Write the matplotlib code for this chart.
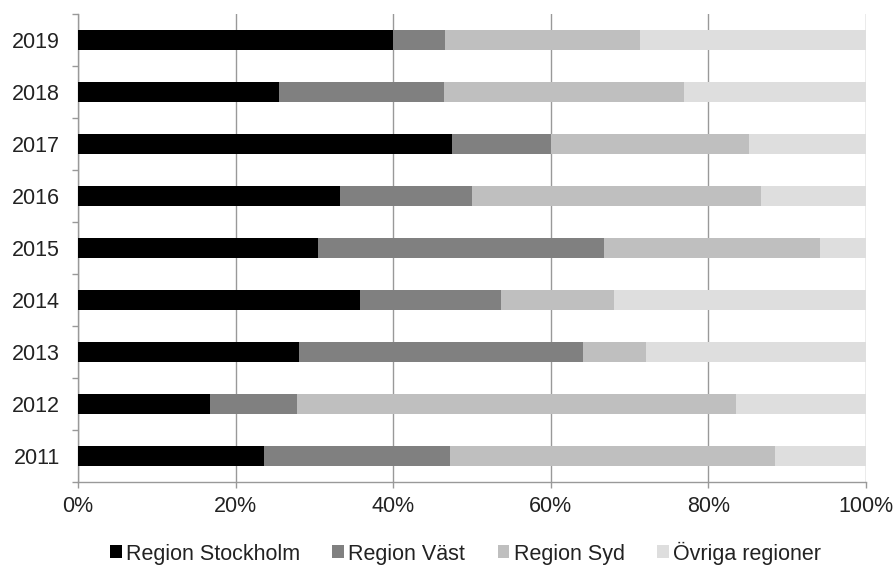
import matplotlib.pyplot as plt
import numpy as np
from matplotlib.ticker import FixedLocator, PercentFormatter

plt.rcParams["font.family"] = ["Liberation Sans", "DejaVu Sans"]

# data (share of total, %)
years = ["2011", "2012", "2013", "2014", "2015", "2016", "2017", "2018", "2019"]
stockholm = [23.6, 16.8, 28.0, 35.8, 30.4, 33.3, 47.5, 25.5, 40.0]
vast = [23.6, 11.0, 36.1, 17.9, 36.3, 16.7, 12.5, 21.0, 6.6]
syd = [41.2, 55.7, 8.0, 14.3, 27.4, 36.7, 25.2, 30.4, 24.7]
ovriga = [11.6, 16.5, 27.9, 32.0, 5.9, 13.3, 14.8, 23.1, 28.7]

series = [
    ("Region Stockholm", stockholm, "#000000"),
    ("Region Väst", vast, "#808080"),
    ("Region Syd", syd, "#bfbfbf"),
    ("Övriga regioner", ovriga, "#dedede"),
]

fig = plt.figure(figsize=(8.95, 5.65), dpi=100)
ax = fig.add_axes([78 / 895, 1 - 482 / 565, 788 / 895, 468 / 565])

y = np.arange(len(years))
left = np.zeros(len(years))
for name, vals, col in series:
    vals = np.array(vals)
    ax.barh(y, vals, left=left, height=0.39, color=col, label=name, zorder=3)
    left += vals

ax.set_xlim(0, 100)
ax.set_ylim(-0.5, len(years) - 0.5)
ax.xaxis.set_major_locator(FixedLocator([0, 20, 40, 60, 80, 100]))
ax.xaxis.set_major_formatter(PercentFormatter(decimals=0))
ax.set_yticks(y)
ax.set_yticklabels(years)
ax.yaxis.set_minor_locator(FixedLocator(np.arange(len(years) + 1) - 0.5))

ax.grid(axis="x", color="#999999", linewidth=1, zorder=0)
for s in ["top", "right"]:
    ax.spines[s].set_visible(False)
for s in ["left", "bottom"]:
    ax.spines[s].set_color("#999999")
    ax.spines[s].set_linewidth(1)

ax.tick_params(axis="y", which="major", length=0, pad=13, labelsize=15.5, labelcolor="#222222")
ax.tick_params(axis="y", which="minor", length=4.5, color="#999999", width=1)
ax.tick_params(axis="x", length=4, color="#999999", width=1, pad=6, labelsize=15.5, labelcolor="#222222")

fig.legend(loc="center", bbox_to_anchor=(0.52, 1 - 553 / 565), ncol=4, frameon=False,
           fontsize=15.5, handlelength=0.55, handleheight=0.55, handletextpad=0.2,
           columnspacing=1.5, labelcolor="#222222")

fig.savefig("out.png", dpi=100)
